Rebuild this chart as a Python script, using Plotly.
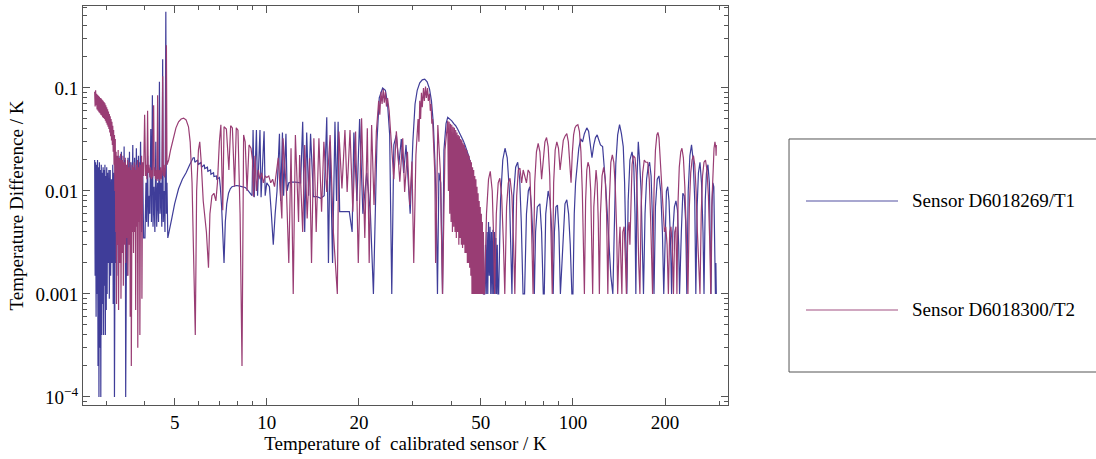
import math
import plotly.graph_objects as go

# Sensor D6018269/T1: calibrated-sensor temperature (K) and |difference| (K)
t1_temp = [
    2.74, 2.75, 2.76, 2.77, 2.78, 2.79, 2.80, 2.81,
    2.82, 2.83, 2.84, 2.85, 2.86, 2.87, 2.88, 2.89,
    2.90, 2.91, 2.92, 2.93, 2.94, 2.95, 2.96, 2.97,
    2.98, 2.99, 3.00, 3.01, 3.02, 3.03, 3.05, 3.06,
    3.08, 3.09, 3.11, 3.12, 3.14, 3.15, 3.17, 3.18,
    3.20, 3.21, 3.23, 3.24, 3.26, 3.27, 3.29, 3.30,
    3.32, 3.33, 3.35, 3.36, 3.38, 3.40, 3.42, 3.43,
    3.45, 3.46, 3.49, 3.50, 3.52, 3.54, 3.56, 3.58,
    3.60, 3.62, 3.65, 3.67, 3.70, 3.72, 3.75, 3.78,
    3.81, 3.84, 3.87, 3.90, 3.93, 3.96, 4.00, 4.03,
    4.05, 4.08, 4.10, 4.13, 4.15, 4.18, 4.20, 4.23,
    4.25, 4.28, 4.31, 4.34, 4.37, 4.40, 4.43, 4.46,
    4.48, 4.51, 4.54, 4.57, 4.59, 4.62, 4.65, 4.68,
    4.70, 4.72, 4.75, 4.80, 4.90, 5.00, 5.15, 5.30,
    5.45, 5.60, 5.75, 5.80, 5.82, 5.95, 5.97, 6.10,
    6.12, 6.25, 6.27, 6.40, 6.42, 6.55, 6.57, 6.70,
    6.72, 6.85, 6.87, 7.00, 7.05, 7.12, 7.18, 7.25,
    7.32, 7.40, 7.50, 7.60, 7.70, 7.80, 7.95, 8.10,
    8.30, 8.50, 8.60, 8.80, 8.95, 9.02, 9.10, 9.25,
    9.33, 9.50, 9.58, 9.80, 9.88, 10.0, 10.2, 10.35,
    10.5, 10.65, 10.8, 11.0, 11.1, 11.25, 11.35, 11.55,
    11.65, 11.8, 12.0, 12.4, 12.9, 13.1, 13.3, 13.5,
    13.7, 13.9, 14.2, 14.6, 15.0, 15.4, 15.7, 15.9,
    16.1, 16.4, 16.7, 16.9, 17.1, 17.3, 17.8, 18.3,
    18.6, 19.0, 19.25, 19.7, 20.1, 20.6, 21.2, 21.8,
    22.3, 22.9, 23.3, 23.9, 24.4, 24.8, 25.2, 25.6,
    26.0, 26.5, 27.0, 27.5, 28.0, 28.5, 29.0, 29.4,
    30.0, 30.5, 31.0, 31.6, 32.2, 32.8, 33.4, 34.0,
    34.5, 35.0, 35.4, 35.8, 36.1, 36.5, 37.0, 37.5,
    37.9, 38.5, 39.0, 39.6, 40.2, 40.8, 41.4, 42.0,
    42.6, 43.2, 43.8, 44.4, 45.0, 45.6, 46.2, 46.8,
    47.4, 48.0, 48.6, 49.2, 49.8, 50.4, 51.0, 51.5,
    51.8, 52.1, 52.4, 52.7, 53.0, 53.3, 53.6, 53.9,
    54.2, 54.5, 54.8, 55.1, 55.4, 55.7, 56.0, 56.3,
    56.6, 56.9, 57.2,
    58.0, 59.0, 60.0, 61.0, 62.0, 62.8, 63.2, 64.0,
    65.0, 66.0, 67.0, 67.8, 68.7, 69.5, 70.5, 71.5,
    72.3, 73.2, 74.2, 74.8, 75.5, 76.5, 78.0, 79.0,
    80.0, 80.6, 81.5, 83.0, 84.2, 85.3, 86.2, 87.0,
    88.0, 89.0, 90.0, 91.0, 92.0, 93.0, 94.2, 95.5,
    96.8, 98.0, 99.2, 100.0, 101.0, 102.0, 103.0, 104.5,
    106.0, 107.5, 109.0, 111.0, 112.5, 114.0, 115.4, 117.0,
    118.5, 120.0, 121.5, 123.0, 125.0, 126.5, 128.0, 129.5,
    131.0, 133.0, 135.0, 136.5, 138.0, 140.0, 142.0, 144.0,
    146.0, 147.5, 149.0, 150.0, 151.5, 153.5, 156.0, 158.0,
    159.5, 160.5, 162.0, 163.5, 165.0, 167.0, 168.5, 170.0,
    172.0, 174.0, 176.0, 178.0, 180.0, 182.0, 184.0, 186.0,
    188.5, 191.0, 193.5, 196.0, 198.0, 200.0, 202.0, 204.0,
    206.0, 208.5, 210.0, 212.0, 214.5, 217.0, 219.5, 221.5,
    223.0, 226.0, 228.5, 231.0, 233.5, 235.5, 238.0, 241.0,
    244.0, 247.0, 250.0, 252.0, 254.5, 257.0, 260.0, 263.0,
    266.0, 268.0, 270.5, 273.0, 276.0, 279.0, 281.0, 282.5,
    284.5, 286.5, 288.5, 290.5, 292.0, 293.0, 293.5, 294.0,
]
t1_diff = [
    0.020, 0.0015, 0.019, 0.0006, 0.018, 0.0010, 0.020, 0.0002,
    0.017, 0.0001, 0.019, 0.0003, 0.016, 0.0001, 0.018, 0.0004,
    0.015, 0.0008, 0.017, 0.0004, 0.016, 0.0012, 0.018, 0.0004,
    0.014, 0.0007, 0.017, 0.0010, 0.015, 0.0020, 0.016, 0.0009,
    0.016, 0.0015, 0.013, 0.0020, 0.018, 0.0008, 0.015, 0.0001,
    0.016, 0.0020, 0.020, 0.0030, 0.018, 0.0015, 0.022, 0.0040,
    0.017, 0.0020, 0.024, 0.0030, 0.018, 0.0025, 0.027, 0.0040,
    0.020, 0.0001, 0.016, 0.0015, 0.021, 0.0040, 0.024, 0.0030,
    0.019, 0.0050, 0.028, 0.0040, 0.021, 0.0050, 0.026, 0.0045,
    0.022, 0.0050, 0.030, 0.0040, 0.018, 0.0035, 0.0035, 0.012,
    0.0050, 0.022, 0.0045, 0.009, 0.006, 0.040, 0.005, 0.085,
    0.0045, 0.011, 0.0040, 0.030, 0.0045, 0.012, 0.0050, 0.115,
    0.006, 0.012, 0.0045, 0.19, 0.005, 0.010, 0.0040, 0.55,
    0.006, 0.012, 0.0035, 0.0040, 0.0055, 0.0075, 0.0105, 0.013,
    0.015, 0.018, 0.021, 0.021, 0.019, 0.020, 0.018, 0.019,
    0.017, 0.018, 0.0165, 0.017, 0.0155, 0.016, 0.0145, 0.015,
    0.0138, 0.014, 0.013, 0.0135, 0.011, 0.007, 0.004, 0.002,
    0.005, 0.0075, 0.0095, 0.0105, 0.011, 0.0112, 0.0113, 0.0112,
    0.011, 0.0108, 0.0105, 0.0095, 0.009, 0.039, 0.0087, 0.039,
    0.009, 0.039, 0.0087, 0.038, 0.009, 0.012, 0.011, 0.006,
    0.003, 0.006, 0.010, 0.036, 0.008, 0.037, 0.009, 0.036,
    0.010, 0.012, 0.0122, 0.0122, 0.012, 0.047, 0.004, 0.037,
    0.009, 0.036, 0.0088, 0.0088, 0.0085, 0.009, 0.052, 0.002,
    0.030, 0.002, 0.047, 0.008, 0.047, 0.0063, 0.0063, 0.0062,
    0.0063, 0.004, 0.037, 0.008, 0.050, 0.006, 0.015, 0.006,
    0.001, 0.030, 0.080, 0.100, 0.095, 0.070, 0.035, 0.001,
    0.028, 0.035, 0.018, 0.032, 0.015, 0.028, 0.012, 0.006,
    0.030, 0.070, 0.095, 0.112, 0.120, 0.122, 0.115, 0.098,
    0.075, 0.045, 0.020, 0.006, 0.001, 0.015, 0.012, 0.001,
    0.025, 0.045, 0.052, 0.050, 0.048, 0.045, 0.043, 0.040,
    0.037, 0.034, 0.031, 0.028, 0.025, 0.022, 0.019, 0.016,
    0.013, 0.011, 0.0085, 0.006, 0.004, 0.002, 0.001, 0.001,
    0.003, 0.001, 0.004, 0.001, 0.005, 0.0015, 0.0045, 0.001,
    0.004, 0.001, 0.0042, 0.001, 0.004, 0.001, 0.0035, 0.001,
    0.003, 0.001, 0.001,
    0.008, 0.020, 0.026, 0.021, 0.010, 0.003, 0.001, 0.009,
    0.017, 0.019, 0.013, 0.005, 0.001, 0.001, 0.006, 0.010,
    0.011, 0.007, 0.003, 0.001, 0.004, 0.007, 0.0075, 0.004,
    0.001, 0.001, 0.006, 0.010, 0.008, 0.004, 0.001, 0.004,
    0.007, 0.0073, 0.004, 0.001, 0.002, 0.0045, 0.0075, 0.0082,
    0.006, 0.003, 0.001, 0.001, 0.006, 0.012, 0.018, 0.026,
    0.032, 0.030, 0.036, 0.041, 0.038, 0.028, 0.021, 0.028,
    0.033, 0.035, 0.031, 0.028, 0.027, 0.018, 0.011, 0.006,
    0.003, 0.0015, 0.001, 0.006, 0.018, 0.035, 0.044, 0.036,
    0.027, 0.012, 0.003, 0.001, 0.008, 0.020, 0.024, 0.018,
    0.006, 0.001, 0.014, 0.030, 0.020, 0.010, 0.003, 0.001,
    0.006, 0.013, 0.017, 0.019, 0.014, 0.005, 0.001, 0.007,
    0.013, 0.014, 0.010, 0.004, 0.001, 0.004, 0.010, 0.011,
    0.008, 0.003, 0.001, 0.004, 0.007, 0.008, 0.0065, 0.003,
    0.001, 0.004, 0.0095, 0.009, 0.005, 0.001, 0.010, 0.022,
    0.028, 0.020, 0.008, 0.001, 0.007, 0.015, 0.019, 0.012,
    0.004, 0.001, 0.008, 0.015, 0.018, 0.012, 0.004, 0.001,
    0.007, 0.012, 0.011, 0.004, 0.001, 0.002, 0.001, 0.001,
]

# Sensor D6018300/T2
t2_temp = [
    2.74, 2.75, 2.76, 2.77, 2.78, 2.79, 2.80, 2.81,
    2.82, 2.83, 2.84, 2.85, 2.86, 2.87, 2.88, 2.89,
    2.90, 2.91, 2.92, 2.93, 2.94, 2.95, 2.96, 2.97,
    2.98, 2.99, 3.00, 3.01, 3.02, 3.03, 3.04, 3.05,
    3.06, 3.07, 3.08, 3.09, 3.10, 3.11, 3.12, 3.13,
    3.14, 3.15, 3.16, 3.17, 3.18, 3.19, 3.20, 3.21,
    3.22, 3.23, 3.24, 3.25, 3.27, 3.28, 3.30, 3.31,
    3.33, 3.34, 3.36, 3.37, 3.39, 3.40, 3.42, 3.43,
    3.45, 3.46, 3.48, 3.49, 3.51, 3.52, 3.54, 3.55,
    3.57, 3.58, 3.60, 3.61, 3.63, 3.64, 3.66, 3.67,
    3.69, 3.70, 3.72, 3.73, 3.75, 3.76, 3.78, 3.79,
    3.81, 3.82, 3.84, 3.85, 3.87, 3.88, 3.90, 3.91,
    3.93, 3.96, 3.99, 4.02, 4.04, 4.06, 4.08, 4.10,
    4.12, 4.15, 4.17, 4.20, 4.22, 4.24, 4.27, 4.29,
    4.31, 4.33, 4.36, 4.38, 4.40, 4.42, 4.45, 4.47,
    4.50, 4.52, 4.55, 4.57, 4.59, 4.62, 4.64, 4.67,
    4.70, 4.72, 4.78, 4.85, 4.95, 5.05, 5.15, 5.25,
    5.35, 5.45, 5.55, 5.62, 5.70, 5.76, 5.80, 5.84,
    5.90, 5.98, 6.04, 6.10, 6.20, 6.35, 6.45, 6.52,
    6.62, 6.72, 6.82, 6.90, 7.00, 7.08, 7.18, 7.25,
    7.38, 7.52, 7.62, 7.72, 7.85, 7.95, 8.05, 8.18,
    8.30, 8.40, 8.50, 8.62, 8.75, 8.88, 8.98, 9.05,
    9.15, 9.25, 9.38, 9.50, 9.62, 9.75, 9.88, 10.0,
    10.15, 10.3, 10.45, 10.6, 10.9, 11.2, 11.3, 11.6,
    11.8, 12.0, 12.2, 12.4, 12.7, 12.8, 13.1, 13.3,
    13.55, 13.8, 14.0, 14.25, 14.5, 14.8, 15.1, 15.36,
    15.7, 16.1, 16.5, 17.0, 17.2, 17.6, 18.0, 18.3,
    18.7, 19.1, 19.5, 19.9, 20.4, 20.9, 21.3, 21.6,
    22.0, 22.4, 22.8, 23.2, 23.4, 23.6, 23.8, 24.0,
    24.2, 24.4, 24.6, 24.8, 25.1, 25.5,
    26.0, 26.5, 27.2, 27.8, 28.2, 28.8, 29.3, 29.8,
    30.2, 30.7, 31.2, 31.4, 31.6, 31.8, 32.0, 32.2,
    32.5, 32.7, 33.0, 33.2, 33.5, 33.7, 34.0, 34.2,
    34.4, 34.6, 34.8, 35.0, 35.4, 35.6, 36.2, 36.9,
    37.5, 38.2, 39.0,
    39.2, 39.4, 39.6, 39.8, 40.0, 40.2, 40.4, 40.6,
    40.8, 41.0, 41.2, 41.4, 41.6, 41.8, 42.0, 42.2,
    42.4, 42.6, 42.8, 43.0, 43.2, 43.4, 43.6, 43.8,
    44.0, 44.2, 44.4, 44.6, 44.8, 45.0, 45.2, 45.4,
    45.6, 45.8, 46.0, 46.2, 46.4, 46.6, 46.8, 47.0,
    47.2, 47.4, 47.6, 47.8, 48.0, 48.2, 48.4, 48.6,
    48.8, 49.0, 49.2, 49.4, 49.6, 49.8, 50.0, 50.2,
    50.4, 50.6, 50.8, 51.0, 51.2, 51.4, 52.2,
    53.0, 53.7, 54.5, 55.0, 55.5, 56.2, 57.0, 57.7,
    58.5, 59.3, 59.9, 60.7, 61.5, 62.3, 63.2, 64.0,
    64.6, 65.5, 66.3, 67.1, 68.0, 68.8, 69.6, 70.5,
    71.4, 72.3, 73.0, 73.6, 74.1, 75.0, 76.0, 77.0,
    78.0, 79.0, 80.0, 81.0, 82.0, 83.0, 84.0, 84.8,
    85.6, 86.5, 87.5, 88.6, 89.7, 90.8, 91.8, 93.0,
    94.2, 95.5, 96.6, 97.6, 98.6, 99.5, 100.5, 101.5,
    102.5, 103.8, 105.0, 106.2, 107.3, 108.2, 109.0, 110.0,
    111.0, 112.0, 113.2, 114.3, 115.2, 116.0, 117.0, 118.0,
    119.0, 120.0, 121.0, 122.0, 123.0, 124.5, 126.0, 127.5,
    128.8, 130.0, 131.5, 133.0, 134.5, 136.0, 137.5, 139.0,
    140.0, 141.5, 142.5, 143.5, 144.5, 145.5, 147.0, 148.5,
    149.5, 151.0, 152.5, 153.5, 154.5, 156.0, 157.5, 159.5,
    161.0, 162.5, 164.0, 165.5, 167.0, 169.0, 171.0, 173.0,
    175.5, 177.5, 179.5, 181.0, 182.0, 184.0, 186.0, 188.0,
    189.5, 191.0, 193.0, 195.0, 197.0, 199.0, 201.0, 203.0,
    205.0, 207.0, 209.0, 211.0, 213.0, 215.0, 217.0, 218.6,
    220.5, 222.5, 225.0, 227.0, 229.5, 232.0, 234.5, 237.5,
    240.0, 242.5, 245.0, 247.5, 250.0, 252.5, 255.0, 257.5,
    260.0, 262.5, 265.0, 268.0, 271.0, 274.0, 277.0, 280.0,
    282.0, 284.5, 287.0, 289.0, 291.0, 293.0, 293.5, 294.0,
]
t2_diff = [
    0.092, 0.066, 0.095, 0.068, 0.088, 0.062, 0.086, 0.060,
    0.084, 0.058, 0.082, 0.057, 0.080, 0.055, 0.079, 0.054,
    0.077, 0.052, 0.075, 0.051, 0.073, 0.050, 0.071, 0.048,
    0.068, 0.046, 0.065, 0.044, 0.062, 0.042, 0.059, 0.040,
    0.056, 0.037, 0.053, 0.034, 0.050, 0.031, 0.047, 0.028,
    0.043, 0.024, 0.039, 0.018, 0.035, 0.010, 0.032, 0.004,
    0.024, 0.0008, 0.022, 0.003, 0.025, 0.0007, 0.021, 0.002,
    0.023, 0.0009, 0.020, 0.0025, 0.022, 0.0012, 0.019, 0.003,
    0.021, 0.002, 0.018, 0.0035, 0.020, 0.0015, 0.017, 0.003,
    0.019, 0.0006, 0.016, 0.0002, 0.018, 0.004, 0.017, 0.0025,
    0.019, 0.004, 0.016, 0.0007, 0.018, 0.0045, 0.020, 0.0003,
    0.017, 0.005, 0.019, 0.0004, 0.018, 0.006, 0.022, 0.0009,
    0.019, 0.014, 0.055, 0.014, 0.018, 0.013, 0.060, 0.015,
    0.018, 0.0135, 0.017, 0.013, 0.016, 0.0135, 0.068, 0.014,
    0.017, 0.013, 0.016, 0.0125, 0.085, 0.013, 0.016, 0.0125,
    0.017, 0.013, 0.016, 0.130, 0.014, 0.018, 0.0135, 0.017,
    0.260, 0.018, 0.020, 0.025, 0.033, 0.041, 0.047, 0.050,
    0.051, 0.049, 0.042, 0.030, 0.012, 0.002, 0.0005, 0.0004,
    0.010, 0.025, 0.030, 0.020, 0.008, 0.004, 0.0018, 0.006,
    0.009, 0.0095, 0.008, 0.012, 0.030, 0.044, 0.0065, 0.042,
    0.040, 0.016, 0.043, 0.041, 0.011, 0.041, 0.039, 0.006,
    0.0002, 0.035, 0.030, 0.010, 0.028, 0.026, 0.020, 0.0088,
    0.022, 0.010, 0.016, 0.013, 0.015, 0.012, 0.014, 0.0135,
    0.014, 0.012, 0.013, 0.011, 0.021, 0.0054, 0.0325, 0.0098,
    0.002, 0.026, 0.001, 0.035, 0.005, 0.0224, 0.004, 0.028,
    0.0054, 0.0208, 0.002, 0.0325, 0.004, 0.0325, 0.0063, 0.030,
    0.0098, 0.035, 0.004, 0.001, 0.0377, 0.0106, 0.0391, 0.0098,
    0.0391, 0.0063, 0.0377, 0.002, 0.0508, 0.0035, 0.0406, 0.002,
    0.0437, 0.0073, 0.0377, 0.075, 0.055, 0.092, 0.070, 0.097,
    0.072, 0.092, 0.066, 0.080, 0.060, 0.028,
    0.013, 0.038, 0.0123, 0.0325, 0.0098, 0.024, 0.0073, 0.0193,
    0.002, 0.0224, 0.050, 0.030, 0.075, 0.050, 0.090, 0.065,
    0.100, 0.075, 0.103, 0.080, 0.100, 0.075, 0.088, 0.060,
    0.070, 0.045, 0.050, 0.0325, 0.0145, 0.002, 0.0437, 0.015,
    0.001, 0.025, 0.048,
    0.010, 0.047, 0.006, 0.045, 0.005, 0.044, 0.004, 0.042,
    0.0045, 0.041, 0.004, 0.039, 0.0035, 0.037, 0.004, 0.035,
    0.003, 0.034, 0.0035, 0.032, 0.003, 0.031, 0.0028, 0.029,
    0.003, 0.028, 0.0025, 0.026, 0.0025, 0.025, 0.002, 0.023,
    0.002, 0.022, 0.0018, 0.020, 0.0015, 0.019, 0.001, 0.017,
    0.001, 0.016, 0.001, 0.014, 0.001, 0.013, 0.001, 0.011,
    0.001, 0.0095, 0.001, 0.008, 0.001, 0.007, 0.001, 0.006,
    0.001, 0.005, 0.001, 0.004, 0.001, 0.001, 0.006,
    0.013, 0.0155, 0.010, 0.004, 0.001, 0.006, 0.012, 0.0133,
    0.009, 0.003, 0.001, 0.007, 0.012, 0.0133, 0.009, 0.003,
    0.001, 0.009, 0.016, 0.0167, 0.012, 0.016, 0.0143, 0.012,
    0.016, 0.015, 0.007, 0.002, 0.001, 0.012, 0.024, 0.029,
    0.024, 0.013, 0.020, 0.030, 0.033, 0.027, 0.014, 0.005,
    0.001, 0.012, 0.025, 0.030, 0.026, 0.016, 0.022, 0.031,
    0.034, 0.036, 0.030, 0.020, 0.012, 0.023, 0.035, 0.041,
    0.043, 0.044, 0.038, 0.024, 0.010, 0.003, 0.001, 0.008,
    0.016, 0.019, 0.017, 0.010, 0.003, 0.001, 0.007, 0.013,
    0.016, 0.012, 0.005, 0.001, 0.006, 0.014, 0.017, 0.013,
    0.006, 0.001, 0.008, 0.019, 0.0224, 0.019, 0.011, 0.004,
    0.001, 0.003, 0.0045, 0.002, 0.001, 0.004, 0.0045, 0.002,
    0.001, 0.004, 0.005, 0.003, 0.008, 0.018, 0.022, 0.021,
    0.015, 0.007, 0.002, 0.001, 0.007, 0.015, 0.020, 0.019,
    0.019, 0.013, 0.005, 0.002, 0.001, 0.010, 0.025, 0.035,
    0.037, 0.033, 0.020, 0.012, 0.006, 0.004, 0.0045, 0.003,
    0.001, 0.004, 0.0045, 0.003, 0.001, 0.004, 0.0045, 0.001,
    0.008, 0.017, 0.024, 0.026, 0.021, 0.011, 0.004, 0.001,
    0.007, 0.015, 0.020, 0.022, 0.018, 0.010, 0.004, 0.002,
    0.001, 0.006, 0.014, 0.019, 0.020, 0.016, 0.009, 0.003,
    0.001, 0.008, 0.018, 0.026, 0.030, 0.026, 0.022, 0.028,
]

series_names = ["Sensor D6018269/T1", "Sensor D6018300/T2"]

x_major = [5, 10, 20, 50, 100, 200]
x_minor = [3, 4, 6, 7, 8, 9, 30, 40, 60, 70, 80, 90, 300]
y_major = [0.0001, 0.001, 0.01, 0.1]
y_major_text = ["10<sup>\u22124</sup>", "0.001", "0.01", "0.1"]
y_minor = [m * 10.0 ** e for e in range(-5, 0) for m in range(2, 10)]

BLUE = "rgb(63,61,153)"
MAGENTA = "rgb(153,61,116)"
FRAME = "#555555"
FONT = dict(family="Liberation Serif", size=19, color="black")

fig = go.Figure()
fig.add_trace(go.Scatter(x=t1_temp, y=t1_diff, mode="lines", name=series_names[0],
                         line=dict(color=BLUE, width=1.2), showlegend=False))
fig.add_trace(go.Scatter(x=t2_temp, y=t2_diff, mode="lines", name=series_names[1],
                         line=dict(color=MAGENTA, width=1.2), showlegend=False))

axis_common = dict(
    showline=True, linecolor=FRAME, linewidth=1, mirror="allticks",
    ticks="inside", ticklen=7, tickcolor=FRAME, tickwidth=1,
    showgrid=False, zeroline=False, tickfont=FONT,
)

fig.update_xaxes(
    type="log", range=[math.log10(2.51), math.log10(321)],
    tickmode="array", tickvals=x_major, ticktext=[str(v) for v in x_major],
    minor=dict(tickmode="array", tickvals=x_minor, ticks="inside", ticklen=4,
               tickcolor=FRAME, showgrid=False),
    title=dict(text="Temperature of  calibrated sensor / K", font=FONT, standoff=4),
    **axis_common,
)
fig.update_yaxes(
    type="log", range=[-4.078, -0.204],
    tickmode="array", tickvals=y_major, ticktext=y_major_text,
    minor=dict(tickmode="array", tickvals=y_minor, ticks="inside", ticklen=4,
               tickcolor=FRAME, showgrid=False),
    title=dict(text="Temperature Difference / K", font=FONT, standoff=6),
    **axis_common,
)

# legend drawn as a framed panel to the right, clipped by the page edge
legend_box = dict(type="rect", xref="paper", yref="paper",
                  x0=1.0946, x1=1.60, y0=0.0827, y1=0.6667,
                  line=dict(color=FRAME, width=1), fillcolor="rgba(0,0,0,0)")
shapes = [legend_box]
annotations = []
for name, color, ypos in [(series_names[0], BLUE, 0.5113), (series_names[1], MAGENTA, 0.2381)]:
    shapes.append(dict(type="line", xref="paper", yref="paper",
                       x0=1.1209, x1=1.2636, y0=ypos, y1=ypos,
                       line=dict(color=color, width=1.5), opacity=0.6))
    annotations.append(dict(text=name, xref="paper", yref="paper", x=1.2822, y=ypos,
                            xanchor="left", yanchor="middle", showarrow=False, font=FONT))

fig.update_layout(
    width=1096, height=459,
    margin=dict(l=83, r=368, t=6, b=54),
    paper_bgcolor="white", plot_bgcolor="white",
    shapes=shapes, annotations=annotations,
    showlegend=False,
)

fig.write_html("out.html", config={"displayModeBar": False},
               post_script="document.body.style.margin='0px';")
